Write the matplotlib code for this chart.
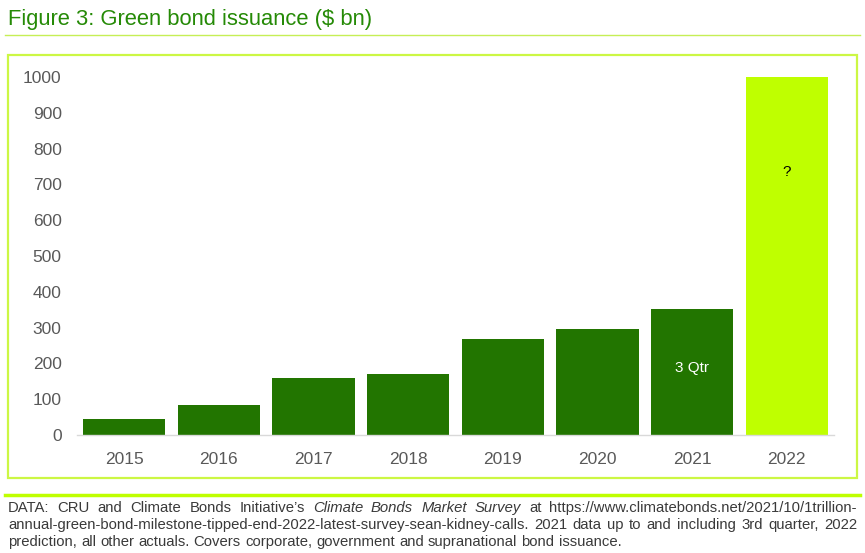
import matplotlib
matplotlib.use('Agg')
import matplotlib.pyplot as plt
from matplotlib.patches import Rectangle
from matplotlib.lines import Line2D

plt.rcParams['font.family'] = ['Liberation Sans', 'DejaVu Sans']

# data
years = ['2015', '2016', '2017', '2018', '2019', '2020', '2021', '2022']
issuance = [45, 84, 159, 170, 268, 296, 352, 1000]
bar_colors = ['#227500'] * 7 + ['#bfff00']
bar_notes = {'2021': ('3 Qtr', 'white', 188), '2022': ('?', 'black', 735)}

title = 'Figure 3: Green bond issuance ($ bn)'
footer_lines = [
    [('DATA: CRU and Climate Bonds Initiative\u2019s', False),
     ('Climate Bonds Market Survey', True),
     ('at https://www.climatebonds.net/2021/10/1trillion-', False)],
    [('annual-green-bond-milestone-tipped-end-2022-latest-survey-sean-kidney-calls. '
      '2021 data up to and including 3rd quarter, 2022', False)],
    [('prediction, all other actuals. Covers corporate, government and supranational bond issuance.', False)],
]

W, H = 865, 553
fig = plt.figure(figsize=(W / 100, H / 100), dpi=100)


def px(x, y):
    # pixel coords (top-left origin) -> figure fraction
    return x / W, 1 - y / H


# title and rule under it
fig.text(*px(8, 20), title, fontsize=15.8, color='#258a06', va='center', ha='left')
fig.add_artist(Line2D([5 / W, 860 / W], [1 - 35 / H] * 2, color='#c6ef55', lw=1))

# chart frame
fig.add_artist(Rectangle(px(8, 478), 849 / W, 423 / H, transform=fig.transFigure,
                         fill=False, edgecolor='#ccf744', lw=1.6))

# footer rule
fig.add_artist(Line2D([5 / W, 860 / W], [1 - 495 / H] * 2, color='#bfff00', lw=2.5))

# axes
left, bottom = px(77, 435)
ax = fig.add_axes([left, bottom, (834 - 77) / W, (435 - 77) / H])
x = range(len(years))
ax.bar(x, issuance, width=0.87, color=bar_colors, zorder=2, clip_on=False)
ax.set_xlim(-0.5, len(years) - 0.5)
ax.set_ylim(0, 1000)
ax.set_xticks(list(x))
ax.set_xticklabels(years)
ax.set_yticks(range(0, 1001, 100))
ax.tick_params(length=0, labelsize=12.5, labelcolor='#595959')
ax.tick_params(axis='y', pad=11)
ax.tick_params(axis='x', pad=12)
for s in ['top', 'right', 'left']:
    ax.spines[s].set_visible(False)
ax.spines['bottom'].set_color('#d9d9d9')
ax.spines['bottom'].set_linewidth(1)

for yr, (txt, col, yv) in bar_notes.items():
    ax.text(years.index(yr), yv, txt, ha='center', va='center', color=col, fontsize=11)

# justified footer text
fig.canvas.draw()
renderer = fig.canvas.get_renderer()
fs = 10.7
x0, x1 = 8, 857


def width_of(s, italic):
    t = fig.text(0, 0, s, fontsize=fs, style='italic' if italic else 'normal')
    w = t.get_window_extent(renderer).width
    t.remove()
    return w


space_w = width_of('a a', False) - width_of('aa', False)
line_y = [508, 525, 542]
for i, segs in enumerate(footer_lines):
    words = []
    for s, it in segs:
        for w in s.split(' '):
            words.append((w, it))
    widths = [width_of(w, it) for w, it in words]
    if i < len(footer_lines) - 1:
        gap = (x1 - x0 - sum(widths)) / (len(words) - 1)
    else:
        gap = space_w
    cx = x0
    for (w, it), ww in zip(words, widths):
        fig.text(*px(cx, line_y[i]), w, fontsize=fs, color='#3a3a3a', va='center', ha='left',
                 style='italic' if it else 'normal')
        cx += ww + gap

fig.savefig('out.png', dpi=100)
